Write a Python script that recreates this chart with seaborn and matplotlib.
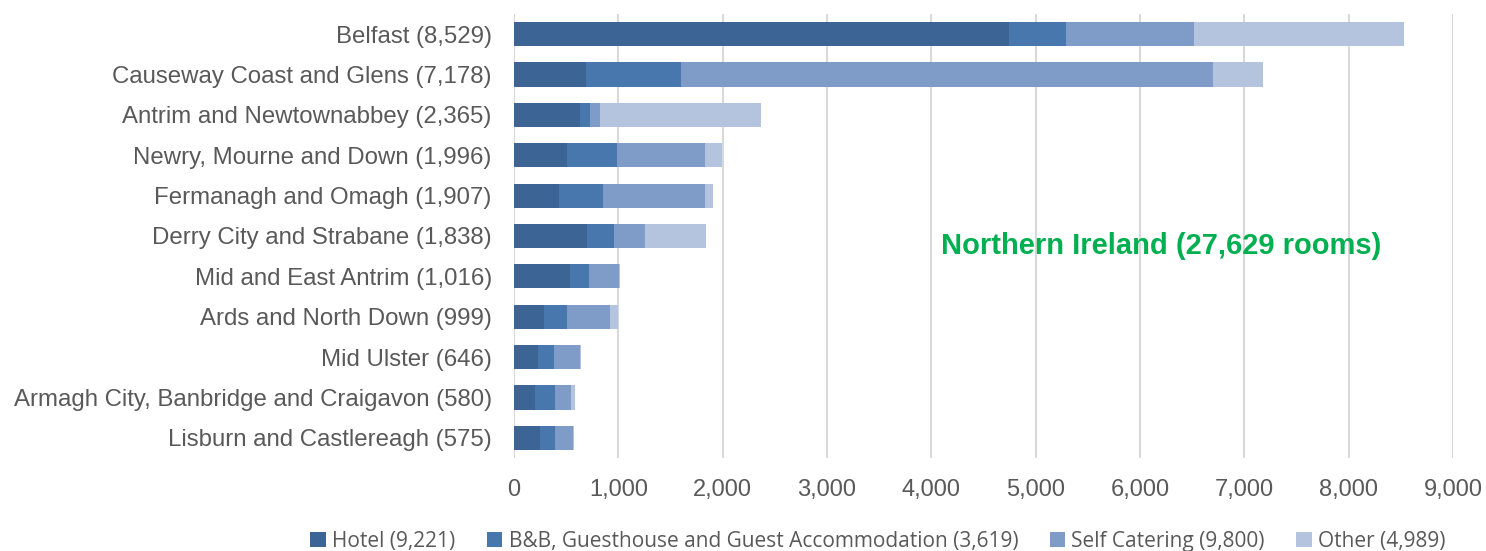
import numpy as np
import pandas as pd
import matplotlib
matplotlib.use('Agg')
import matplotlib.pyplot as plt
import seaborn as sns
from matplotlib.patches import Patch

# council areas, top to bottom
areas = ['Belfast', 'Causeway Coast and Glens', 'Antrim and Newtownabbey',
         'Newry, Mourne and Down', 'Fermanagh and Omagh', 'Derry City and Strabane',
         'Mid and East Antrim', 'Ards and North Down', 'Mid Ulster',
         'Armagh City, Banbridge and Craigavon', 'Lisburn and Castlereagh']

hotel = [4740, 690, 630, 510, 435, 700, 537, 290, 233, 204, 252]
bnb = [555, 913, 100, 480, 420, 260, 185, 218, 154, 190, 144]
self_catering = [1225, 5099, 95, 840, 975, 300, 280, 412, 249, 152, 173]
other = [2009, 476, 1540, 166, 77, 578, 14, 79, 10, 34, 6]

series_names = ['Hotel', 'B&B, Guesthouse and Guest Accommodation', 'Self Catering', 'Other']
colors = ['#3C6494', '#4877AE', '#7F9CC8', '#B4C3DE']

df = pd.DataFrame({'area': areas, 'Hotel': hotel, 'BnB': bnb,
                   'Self': self_catering, 'Other': other})
df['total'] = df[['Hotel', 'BnB', 'Self', 'Other']].sum(axis=1)
df['label'] = [f"{a} ({t:,})" for a, t in zip(df['area'], df['total'])]

sns.set_style('white')
plt.rcParams['font.family'] = ['Liberation Sans', 'DejaVu Sans']

fig = plt.figure(figsize=(14.86, 5.51), dpi=100)
ax = fig.add_axes([0.3459, 0.1688, 0.9778 - 0.3459, 0.9746 - 0.1688])

# stacked bars: draw cumulative sums from the outermost inward
cols = ['Hotel', 'BnB', 'Self', 'Other']
cum = df[cols].cumsum(axis=1)
for i in range(3, -1, -1):
    sns.barplot(x=cum[cols[i]], y=df['label'], color=colors[i], orient='h',
                width=0.6, ax=ax, saturation=1, linewidth=0, zorder=3)

ax.set_xlim(0, 9000)
ax.set_ylim(10.5, -0.5)
ax.set_xticks(np.arange(0, 9001, 1000))
ax.set_xticklabels([f"{v:,}" for v in range(0, 9001, 1000)])
ax.set_xlabel('')
ax.set_ylabel('')
ax.xaxis.grid(True, color='#D9D9D9', linewidth=1.5, zorder=0)
ax.set_axisbelow(True)
for s in ax.spines.values():
    s.set_visible(False)
ax.tick_params(axis='y', length=0, pad=16, labelsize=17.25, labelcolor='#595959')
ax.tick_params(axis='x', length=0, pad=15, labelsize=17, labelcolor='#595959')

ax.text(6200, 5.25, 'Northern Ireland (27,629 rooms)', color='#00B050',
        fontsize=21, fontweight='bold', ha='center', va='center')

totals = [sum(hotel), sum(bnb), sum(self_catering), sum(other)]
handles = [Patch(facecolor=c, edgecolor='none') for c in colors]
labels = [f"{n} ({t:,})" for n, t in zip(series_names, totals)]
fig.legend(handles, labels, loc='center', bbox_to_anchor=(878 / 1486, 0.018),
           ncol=4, frameon=False, handlelength=0.75, handleheight=0.75,
           handletextpad=0.3, columnspacing=1.5, labelcolor='#595959',
           prop={'family': ['Open Sans', 'DejaVu Sans'], 'size': 15})

fig.savefig('out.png', dpi=100)
